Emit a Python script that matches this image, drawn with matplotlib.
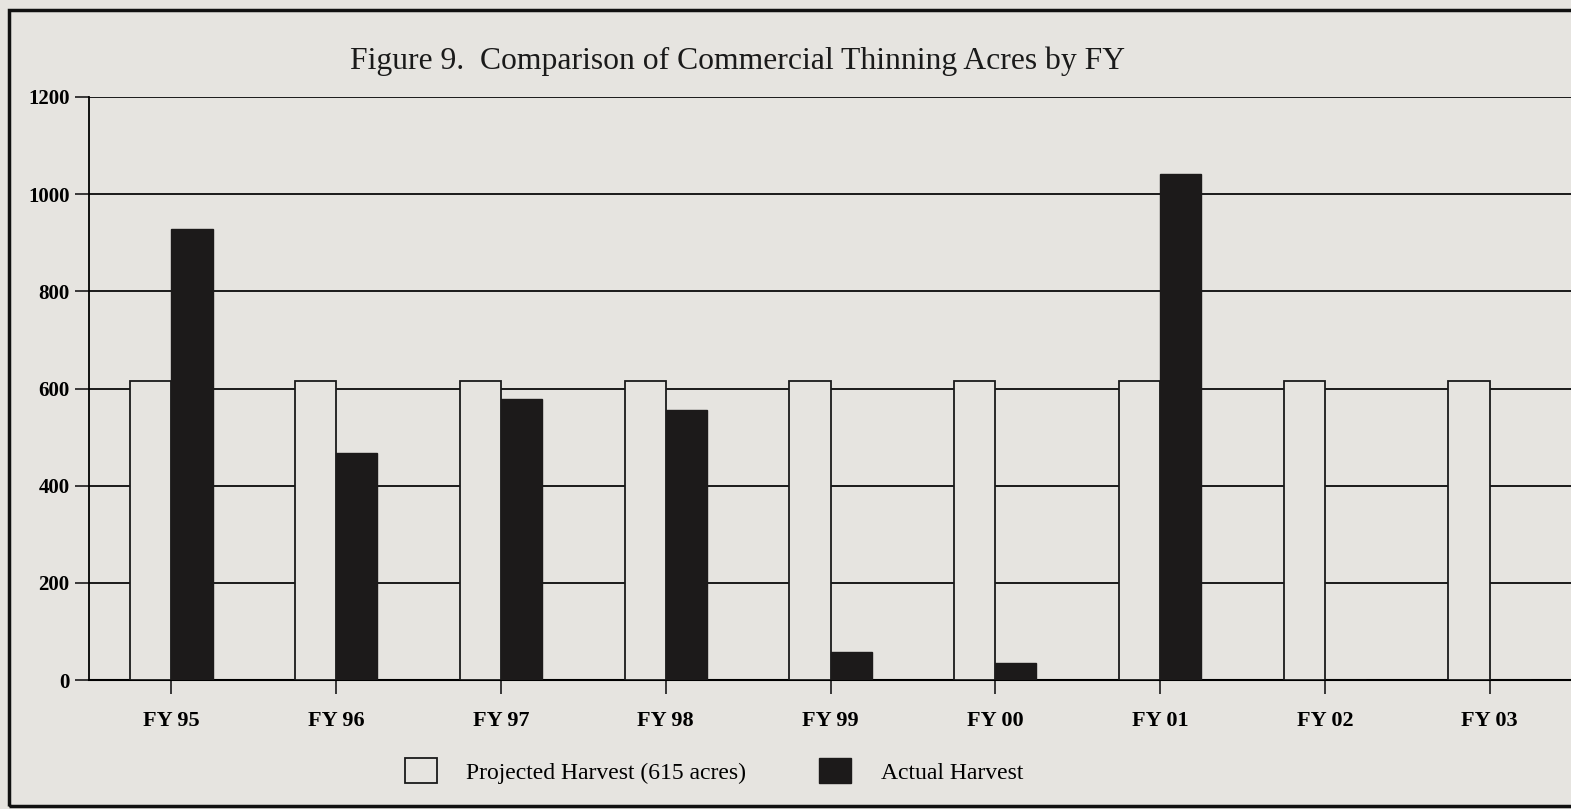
import matplotlib
matplotlib.use("Agg")
import matplotlib.pyplot as plt
from matplotlib.patches import Rectangle
import numpy as np

categories = ["FY 95", "FY 96", "FY 97", "FY 98", "FY 99", "FY 00", "FY 01", "FY 02", "FY 03"]
projected = [615, 615, 615, 615, 615, 615, 615, 615, 615]
actual = [928, 468, 578, 555, 58, 34, 1042, 0, 0]
yticks = [0, 200, 400, 600, 800, 1000, 1200]

BG = "#e6e4e0"
plt.rcParams['font.family'] = ['Liberation Serif', 'DejaVu Serif']

W, H = 1571, 809
fig = plt.figure(figsize=(W / 100, H / 100), dpi=100, facecolor=BG)

# outer frame
fig.patches.append(Rectangle((9 / W, 1 - 806 / H), 1.0, (806 - 10) / H,
                             transform=fig.transFigure, fill=False,
                             edgecolor="#111111", linewidth=2.5))

ax_l, ax_r, ax_t, ax_b = 89, 1572, 97, 680
ax = fig.add_axes([ax_l / W, 1 - ax_b / H, (ax_r - ax_l) / W, (ax_b - ax_t) / H])
ax.set_facecolor(BG)

x = np.arange(len(categories))
bw = 0.25
ax.set_axisbelow(True)
ax.yaxis.grid(True, color="#1a1a1a", linewidth=1.4)
ax.bar(x - bw / 2, projected, width=bw, color=BG, edgecolor="#1a1a1a", linewidth=1.3, zorder=3,
       label="Projected Harvest (615 acres)")
ax.bar(x + bw / 2, actual, width=bw, color="#1c1a1a", edgecolor="#1c1a1a", linewidth=1.0, zorder=3,
       label="Actual Harvest")

ax.set_xlim(-0.5, 8.5)
ax.set_ylim(0, 1200)
ax.set_yticks(yticks)
ax.set_yticklabels([str(v) for v in yticks], fontsize=15, fontweight="bold")
ax.set_xticks(x)
ax.set_xticklabels(categories, fontsize=16, fontweight="bold")
ax.tick_params(axis="x", length=10, width=1.2, pad=12, color="#1a1a1a")
ax.tick_params(axis="y", length=10, width=1.2, pad=4, color="#1a1a1a")
for s in ["top", "right"]:
    ax.spines[s].set_visible(False)
ax.spines["left"].set_linewidth(1.3)
ax.spines["bottom"].set_linewidth(1.5)

fig.text(738 / W, 1 - 69 / H, "Figure 9.  Comparison of Commercial Thinning Acres by FY",
         ha="center", va="baseline", fontsize=22.8, color="#1a1a1a")

leg = fig.legend(loc="center", bbox_to_anchor=(714 / W, 1 - 771 / H), ncol=2,
                 frameon=False, fontsize=17, handlelength=1.35, handleheight=1.25,
                 columnspacing=3.1, handletextpad=1.25)

fig.savefig("out.png", dpi=100, facecolor=BG)
